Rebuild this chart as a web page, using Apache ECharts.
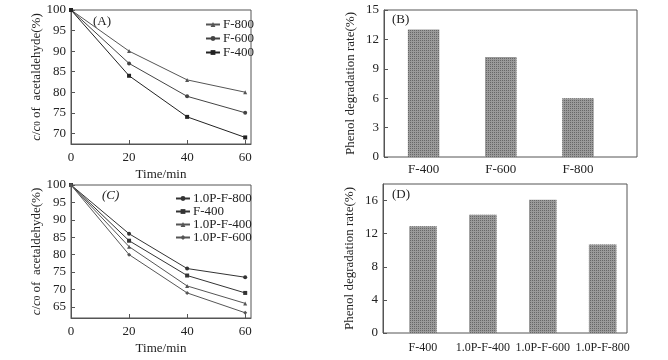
<!DOCTYPE html>
<html><head><meta charset="utf-8">
<script src="https://cdn.jsdelivr.net/npm/echarts@6/dist/echarts.min.js"></script>
<style>html,body{margin:0;padding:0;background:#fff}#c{width:668px;height:360px}</style>
</head><body><div id="c"></div>
<script>
// Panel A
const timeA = [0, 20, 40, 60];
const aF800 = [100, 90, 83, 80];
const aF600 = [100, 87, 79, 75];
const aF400 = [100, 84, 74, 69];
// Panel C
const c1PF800 = [100, 86, 76, 73.5];
const cF400 = [100, 84, 74, 69];
const c1PF400 = [100, 82.3, 71, 66];
const c1PF600 = [100, 80, 69, 63.3];
// Panel B
const catB = ['F-400', 'F-600', 'F-800'];
const valB = [13.0, 10.2, 6.0];
// Panel D
const catD = ['F-400', '1.0P-F-400', '1.0P-F-600', '1.0P-F-800'];
const valD = [12.9, 14.3, 16.1, 10.7];
const ticksA = [70, 75, 80, 85, 90, 95, 100];
const ticksC = [65, 70, 75, 80, 85, 90, 95, 100];
const ticksT = [0, 20, 40, 60];

const font = "'Liberation Serif', 'Times New Roman', serif";
const axisCol = '#555';
const txt = '#222';
const pair = (xs, ys) => xs.map((x, i) => [x, ys[i]]);

function valueAxisX(gi, extra) {
  return Object.assign({
    type: 'value', gridIndex: gi, min: 0, max: 62,
    axisLine: {show: true, onZero: false, lineStyle: {color: axisCol}},
    axisTick: {show: true, inside: true, length: 4, customValues: ticksT, lineStyle: {color: axisCol}},
    axisLabel: {customValues: ticksT, color: txt, fontFamily: font, fontSize: 13, margin: 7},
    splitLine: {show: false},
    name: 'Time/min', nameLocation: 'middle', nameGap: 24,
    nameTextStyle: {color: txt, fontFamily: font, fontSize: 13}
  }, extra || {});
}
function valueAxisY(gi, min, max, ticks, nameGap) {
  return {
    type: 'value', gridIndex: gi, min: min, max: max,
    axisLine: {show: true, onZero: false, lineStyle: {color: axisCol}},
    axisTick: {show: true, inside: true, length: 4, customValues: ticks, lineStyle: {color: axisCol}},
    axisLabel: {customValues: ticks, color: txt, fontFamily: font, fontSize: 13, margin: 5},
    splitLine: {show: false},
    name: '{i|c}/{i|c}{s|0} of  acetaldehyde(%)', nameLocation: 'middle', nameGap: nameGap,
    nameTextStyle: {color: txt, fontFamily: font, fontSize: 13,
      rich: {i: {fontStyle: 'italic', fontFamily: font, fontSize: 13, color: txt},
             s: {fontSize: 9, fontFamily: font, color: txt, verticalAlign: 'bottom'}}}
  };
}
const lineStyleFor = (col) => ({width: 1, color: col});
function lineSeries(name, data, symbol, col, xi, yi) {
  return {
    type: 'line', name: name, xAxisIndex: xi, yAxisIndex: yi,
    data: pair(timeA, data), symbol: symbol, symbolSize: 4,
    lineStyle: lineStyleFor(col), itemStyle: {color: col}, animation: false
  };
}
const barFill = {
  color: '#9a9a9a',
  decal: {symbol: 'rect', symbolSize: 1, color: 'rgba(70,70,70,0.6)', dashArrayX: [1, 1], dashArrayY: [1, 1], rotation: 0}
};
const hiddenVal = (gi, min, max) => ({type: 'value', gridIndex: gi, min: min, max: max, show: false});

const option = {
  animation: false,
  backgroundColor: '#fff',
  grid: [
    {left: 71, top: 10, width: 180, height: 134, show: true, borderColor: axisCol, borderWidth: 1, backgroundColor: 'transparent'},
    {left: 71, top: 185, width: 180, height: 133, show: true, borderColor: axisCol, borderWidth: 1, backgroundColor: 'transparent'},
    {left: 384, top: 10, width: 253, height: 147, show: true, borderColor: axisCol, borderWidth: 1, backgroundColor: 'transparent'},
    {left: 385, top: 10, width: 231.6, height: 147},
    {left: 383, top: 184, width: 244, height: 149, show: true, borderColor: axisCol, borderWidth: 1, backgroundColor: 'transparent'},
    {left: 393, top: 184, width: 239.6, height: 149}
  ],
  xAxis: [
    valueAxisX(0),
    valueAxisX(1),
    hiddenVal(2, 0, 1),
    {type: 'category', gridIndex: 3, data: catB, axisLine: {show: false}, axisTick: {show: false},
     axisLabel: {color: txt, fontFamily: font, fontSize: 13, margin: 6}},
    hiddenVal(4, 0, 1),
    {type: 'category', gridIndex: 5, data: catD, axisLine: {show: false}, axisTick: {show: false},
     axisLabel: {color: txt, fontFamily: font, fontSize: 12, margin: 9, interval: 0}}
  ],
  yAxis: [
    valueAxisY(0, 67.4, 100, ticksA, 28),
    valueAxisY(1, 61.8, 100, ticksC, 28),
    {type: 'value', gridIndex: 2, min: 0, max: 15, interval: 3,
     axisLine: {show: true, lineStyle: {color: axisCol}},
     axisTick: {show: true, inside: true, length: 4, lineStyle: {color: axisCol}},
     axisLabel: {color: txt, fontFamily: font, fontSize: 13, margin: 5},
     splitLine: {show: false},
     name: 'Phenol degradation rate(%)', nameLocation: 'middle', nameGap: 27,
     nameTextStyle: {color: txt, fontFamily: font, fontSize: 13}},
    hiddenVal(3, 0, 15),
    {type: 'value', gridIndex: 4, min: 0, max: 18, interval: 4,
     axisLine: {show: true, lineStyle: {color: axisCol}},
     axisTick: {show: true, inside: true, length: 4, customValues: [0, 4, 8, 12, 16], lineStyle: {color: axisCol}},
     axisLabel: {customValues: [0, 4, 8, 12, 16], color: txt, fontFamily: font, fontSize: 13, margin: 5},
     splitLine: {show: false},
     name: 'Phenol degradation rate(%)', nameLocation: 'middle', nameGap: 27,
     nameTextStyle: {color: txt, fontFamily: font, fontSize: 13}},
    hiddenVal(5, 0, 18)
  ],
  legend: [
    {data: ['F-800', 'F-600', 'F-400'], orient: 'vertical', left: 200, top: 13, itemGap: 1,
     itemWidth: 14, itemHeight: 6, textStyle: {color: txt, fontFamily: font, fontSize: 13, padding: [0, 0, 0, -2]}},
    {data: ['1.0P-F-800', 'F-400 ', '1.0P-F-400', '1.0P-F-600'], orient: 'vertical', left: 170, top: 187, itemGap: 0,
     itemWidth: 14, itemHeight: 6, textStyle: {color: txt, fontFamily: font, fontSize: 13, padding: [0, 0, 0, -2]}}
  ],
  graphic: [
    {type: 'text', left: 93, top: 15, style: {text: '(A)', font: '13px ' + font, fill: txt}},
    {type: 'text', left: 102, top: 189, style: {text: '(C)', font: 'italic 13px ' + font, fill: txt}},
    {type: 'text', left: 392, top: 13, style: {text: '(B)', font: '13px ' + font, fill: txt}},
    {type: 'text', left: 392, top: 188, style: {text: '(D)', font: '13px ' + font, fill: txt}}
  ],
  series: [
    lineSeries('F-800', aF800, 'triangle', '#555', 0, 0),
    lineSeries('F-600', aF600, 'circle', '#444', 0, 0),
    lineSeries('F-400', aF400, 'rect', '#222', 0, 0),
    lineSeries('1.0P-F-800', c1PF800, 'circle', '#333', 1, 1),
    lineSeries('F-400 ', cF400, 'rect', '#333', 1, 1),
    lineSeries('1.0P-F-400', c1PF400, 'triangle', '#555', 1, 1),
    lineSeries('1.0P-F-600', c1PF600, 'diamond', '#555', 1, 1),
    {type: 'bar', xAxisIndex: 3, yAxisIndex: 3, data: valB, barWidth: 31.5, itemStyle: barFill},
    {type: 'bar', xAxisIndex: 5, yAxisIndex: 5, data: valD, barWidth: 27.5, itemStyle: barFill}
  ]
};
const chart = echarts.init(document.getElementById('c'), null, {renderer: 'canvas'});
chart.setOption(option);
</script></body></html>
